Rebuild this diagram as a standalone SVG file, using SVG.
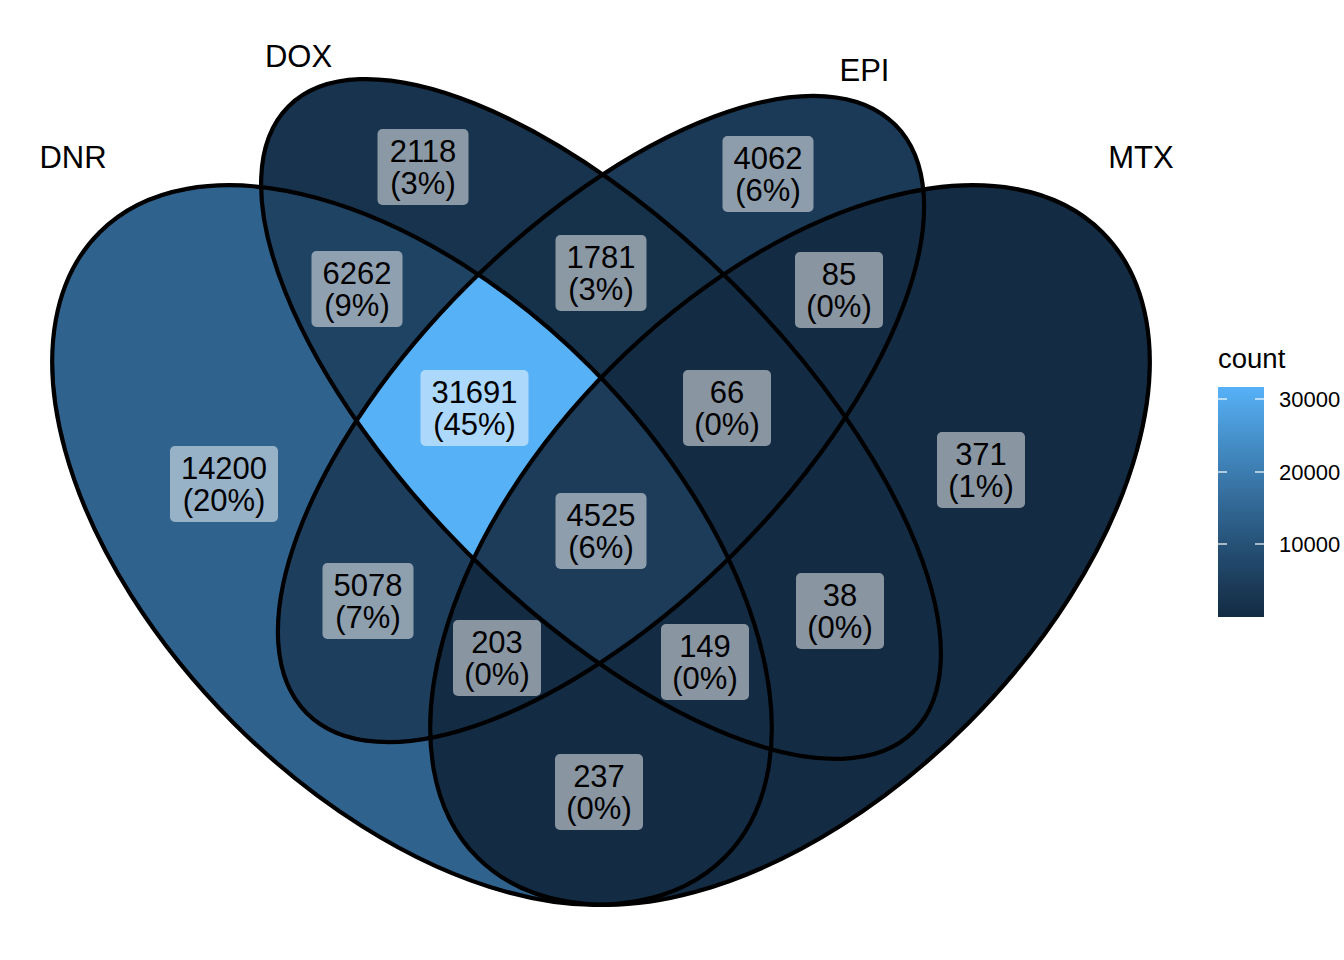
<svg xmlns="http://www.w3.org/2000/svg" xmlns:xlink="http://www.w3.org/1999/xlink" width="1344" height="960" viewBox="0 0 1344 960">
<style>
.lbl rect{fill:#ffffff;fill-opacity:0.5;}
.lbl text{font-family:"Liberation Sans",Arial,sans-serif;font-size:31px;fill:#000;text-anchor:middle;}
.set{font-family:"Liberation Sans",Arial,sans-serif;font-size:31px;fill:#000;text-anchor:middle;}
.outline{fill:none;stroke:#000;stroke-width:4.2;}
.tick{stroke:#fff;stroke-width:1.2;}
.tl{font-family:"Liberation Sans",Arial,sans-serif;font-size:22px;fill:#000;}
</style>
<defs>
<ellipse id="eA" cx="412" cy="545" rx="442" ry="252" transform="rotate(45 412 545)"/>
<ellipse id="eB" cx="601" cy="419" rx="442" ry="189" transform="rotate(45 601 419)"/>
<ellipse id="eC" cx="601" cy="419" rx="416" ry="189" transform="rotate(-45 601 419)"/>
<ellipse id="eD" cx="790" cy="545" rx="442" ry="252" transform="rotate(-45 790 545)"/>
<clipPath id="cA"><ellipse cx="412" cy="545" rx="442" ry="252" transform="rotate(45 412 545)"/></clipPath>
<clipPath id="cB"><ellipse cx="601" cy="419" rx="442" ry="189" transform="rotate(45 601 419)"/></clipPath>
<clipPath id="cC"><ellipse cx="601" cy="419" rx="416" ry="189" transform="rotate(-45 601 419)"/></clipPath>
<linearGradient id="grad" x1="0" y1="1" x2="0" y2="0">
<stop offset="0" stop-color="#132B43"/>
<stop offset="0.127" stop-color="#1B3A57"/>
<stop offset="0.25" stop-color="#22496C"/>
<stop offset="0.447" stop-color="#2F638E"/>
<stop offset="0.6" stop-color="#3A78AA"/>
<stop offset="0.75" stop-color="#448DC6"/>
<stop offset="1" stop-color="#56B1F7"/>
</linearGradient>
</defs>
<rect width="1344" height="960" fill="#fff"/>
<g id="regions">
<use href="#eA" fill="#2F638E"/>
<use href="#eB" fill="#17334D"/>
<use href="#eC" fill="#1B3A57"/>
<use href="#eD" fill="#132C44"/>
<g clip-path="url(#cA)"><use href="#eB" fill="#1F4363"/></g>
<g clip-path="url(#cA)"><use href="#eC" fill="#1D3E5D"/></g>
<g clip-path="url(#cA)"><use href="#eD" fill="#132C44"/></g>
<g clip-path="url(#cB)"><use href="#eC" fill="#16324B"/></g>
<g clip-path="url(#cB)"><use href="#eD" fill="#132B43"/></g>
<g clip-path="url(#cC)"><use href="#eD" fill="#132B43"/></g>
<g clip-path="url(#cA)"><g clip-path="url(#cB)"><use href="#eC" fill="#56B1F7"/></g></g>
<g clip-path="url(#cA)"><g clip-path="url(#cB)"><use href="#eD" fill="#132B43"/></g></g>
<g clip-path="url(#cA)"><g clip-path="url(#cC)"><use href="#eD" fill="#132C44"/></g></g>
<g clip-path="url(#cB)"><g clip-path="url(#cC)"><use href="#eD" fill="#132B43"/></g></g>
<g clip-path="url(#cA)"><g clip-path="url(#cB)"><g clip-path="url(#cC)"><use href="#eD" fill="#1C3C5A"/></g></g></g>
</g>
<g id="connectors">
<use id="set-DNR" href="#eA" class="outline"/>
<use id="set-DOX" href="#eB" class="outline"/>
<use id="set-EPI" href="#eC" class="outline"/>
<use id="set-MTX" href="#eD" class="outline"/>
</g>
<g id="set-labels">
<text class="set" x="73" y="168">DNR</text>
<text class="set" x="298.5" y="67">DOX</text>
<text class="set" x="864.5" y="81">EPI</text>
<text class="set" x="1141" y="168">MTX</text>
</g>
<g id="lbl-DOX" class="lbl"><rect x="377.5" y="129" width="91" height="76" rx="5"/><text x="423" y="161.5">2118</text><text x="423" y="193.5">(3%)</text></g>
<g id="lbl-EPI" class="lbl"><rect x="722.5" y="136" width="91" height="76" rx="5"/><text x="768" y="168.5">4062</text><text x="768" y="200.5">(6%)</text></g>
<g id="lbl-DNR-DOX" class="lbl"><rect x="311.5" y="251" width="91" height="76" rx="5"/><text x="357" y="283.5">6262</text><text x="357" y="315.5">(9%)</text></g>
<g id="lbl-DOX-EPI" class="lbl"><rect x="555.5" y="235" width="91" height="76" rx="5"/><text x="601" y="267.5">1781</text><text x="601" y="299.5">(3%)</text></g>
<g id="lbl-EPI-MTX" class="lbl"><rect x="795" y="252" width="88" height="76" rx="5"/><text x="839" y="284.5">85</text><text x="839" y="316.5">(0%)</text></g>
<g id="lbl-DNR-DOX-EPI" class="lbl"><rect x="420.5" y="370" width="108" height="76" rx="5"/><text x="474.5" y="402.5">31691</text><text x="474.5" y="434.5">(45%)</text></g>
<g id="lbl-DOX-EPI-MTX" class="lbl"><rect x="683" y="370" width="88" height="76" rx="5"/><text x="727" y="402.5">66</text><text x="727" y="434.5">(0%)</text></g>
<g id="lbl-DNR" class="lbl"><rect x="170" y="446" width="108" height="76" rx="5"/><text x="224" y="478.5">14200</text><text x="224" y="510.5">(20%)</text></g>
<g id="lbl-ALL" class="lbl"><rect x="555.5" y="493" width="91" height="76" rx="5"/><text x="601" y="525.5">4525</text><text x="601" y="557.5">(6%)</text></g>
<g id="lbl-MTX" class="lbl"><rect x="937" y="432" width="88" height="76" rx="5"/><text x="981" y="464.5">371</text><text x="981" y="496.5">(1%)</text></g>
<g id="lbl-DNR-EPI" class="lbl"><rect x="322.5" y="563" width="91" height="76" rx="5"/><text x="368" y="595.5">5078</text><text x="368" y="627.5">(7%)</text></g>
<g id="lbl-DOX-MTX" class="lbl"><rect x="796" y="573" width="88" height="76" rx="5"/><text x="840" y="605.5">38</text><text x="840" y="637.5">(0%)</text></g>
<g id="lbl-DNR-EPI-MTX" class="lbl"><rect x="453" y="620" width="88" height="76" rx="5"/><text x="497" y="652.5">203</text><text x="497" y="684.5">(0%)</text></g>
<g id="lbl-DNR-DOX-MTX" class="lbl"><rect x="661" y="624" width="88" height="76" rx="5"/><text x="705" y="656.5">149</text><text x="705" y="688.5">(0%)</text></g>
<g id="lbl-DNR-MTX" class="lbl"><rect x="555" y="754" width="88" height="76" rx="5"/><text x="599" y="786.5">237</text><text x="599" y="818.5">(0%)</text></g>
<g id="legend">
<text x="1218" y="368" style="font-family:'Liberation Sans',Arial,sans-serif;font-size:27.5px;fill:#000;">count</text>
<rect x="1218" y="387" width="46" height="230" fill="url(#grad)"/>
<line class="tick" x1="1218" y1="399" x2="1227" y2="399"/><line class="tick" x1="1255" y1="399" x2="1264" y2="399"/>
<line class="tick" x1="1218" y1="472" x2="1227" y2="472"/><line class="tick" x1="1255" y1="472" x2="1264" y2="472"/>
<line class="tick" x1="1218" y1="544" x2="1227" y2="544"/><line class="tick" x1="1255" y1="544" x2="1264" y2="544"/>
<text class="tl" x="1279" y="407">30000</text>
<text class="tl" x="1279" y="480">20000</text>
<text class="tl" x="1279" y="552">10000</text>
</g>
</svg>
